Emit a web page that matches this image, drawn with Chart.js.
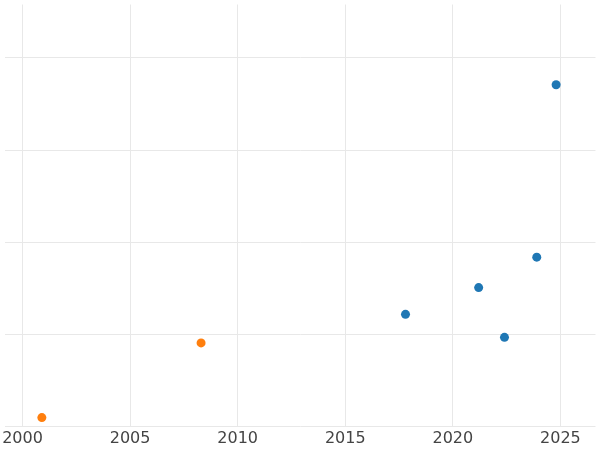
<!DOCTYPE html>
<html lang="en">
<head>
<meta charset="UTF-8">
<title>Scatter</title>
<script src="https://cdn.jsdelivr.net/npm/chart.js"></script>
<style>
  html, body { margin: 0; padding: 0; background: #fff; overflow: hidden; }
  #wrap { width: 600px; height: 450px; }
</style>
</head>
<body>
<div id="wrap"><canvas id="chart"></canvas></div>
<script>
  const xTicks = [2000, 2005, 2010, 2015, 2020, 2025];
  const yTicks = [0, 1, 2, 3, 4];
  const orangeYears = [2000.9, 2008.3];
  const orangeValues = [0.1, 0.91];
  const blueYears = [2017.8, 2021.2, 2022.4, 2023.9, 2024.8];
  const blueValues = [1.22, 1.51, 0.97, 1.84, 3.71];

  const toPoints = (xs, ys) => xs.map((x, i) => ({ x: x, y: ys[i] }));

  new Chart(document.getElementById('chart'), {
    type: 'scatter',
    data: {
      datasets: [
        { data: toPoints(blueYears, blueValues), backgroundColor: '#1f77b4', borderWidth: 0, pointRadius: 4.5 },
        { data: toPoints(orangeYears, orangeValues), backgroundColor: '#ff7f0e', borderWidth: 0, pointRadius: 4.5 }
      ]
    },
    options: {
      responsive: true,
      maintainAspectRatio: false,
      animation: false,
      layout: { padding: 0 },
      plugins: { legend: { display: false }, tooltip: { enabled: false } },
      scales: {
        x: {
          type: 'linear', min: 1999.21, max: 2026.63,
          afterBuildTicks: s => { s.ticks = xTicks.map(v => ({ value: v })); },
          ticks: { callback: v => String(v), color: '#444', font: { size: 16, family: 'DejaVu Sans' }, padding: 2 },
          grid: { color: '#e8e8e8', drawTicks: false },
          border: { display: false }
        },
        y: {
          min: 0, max: 4.58,
          afterBuildTicks: s => { s.ticks = yTicks.map(v => ({ value: v })); },
          ticks: { display: false },
          grid: { color: '#e8e8e8', drawTicks: false },
          border: { display: false }
        }
      }
    }
  });
</script>
</body>
</html>
